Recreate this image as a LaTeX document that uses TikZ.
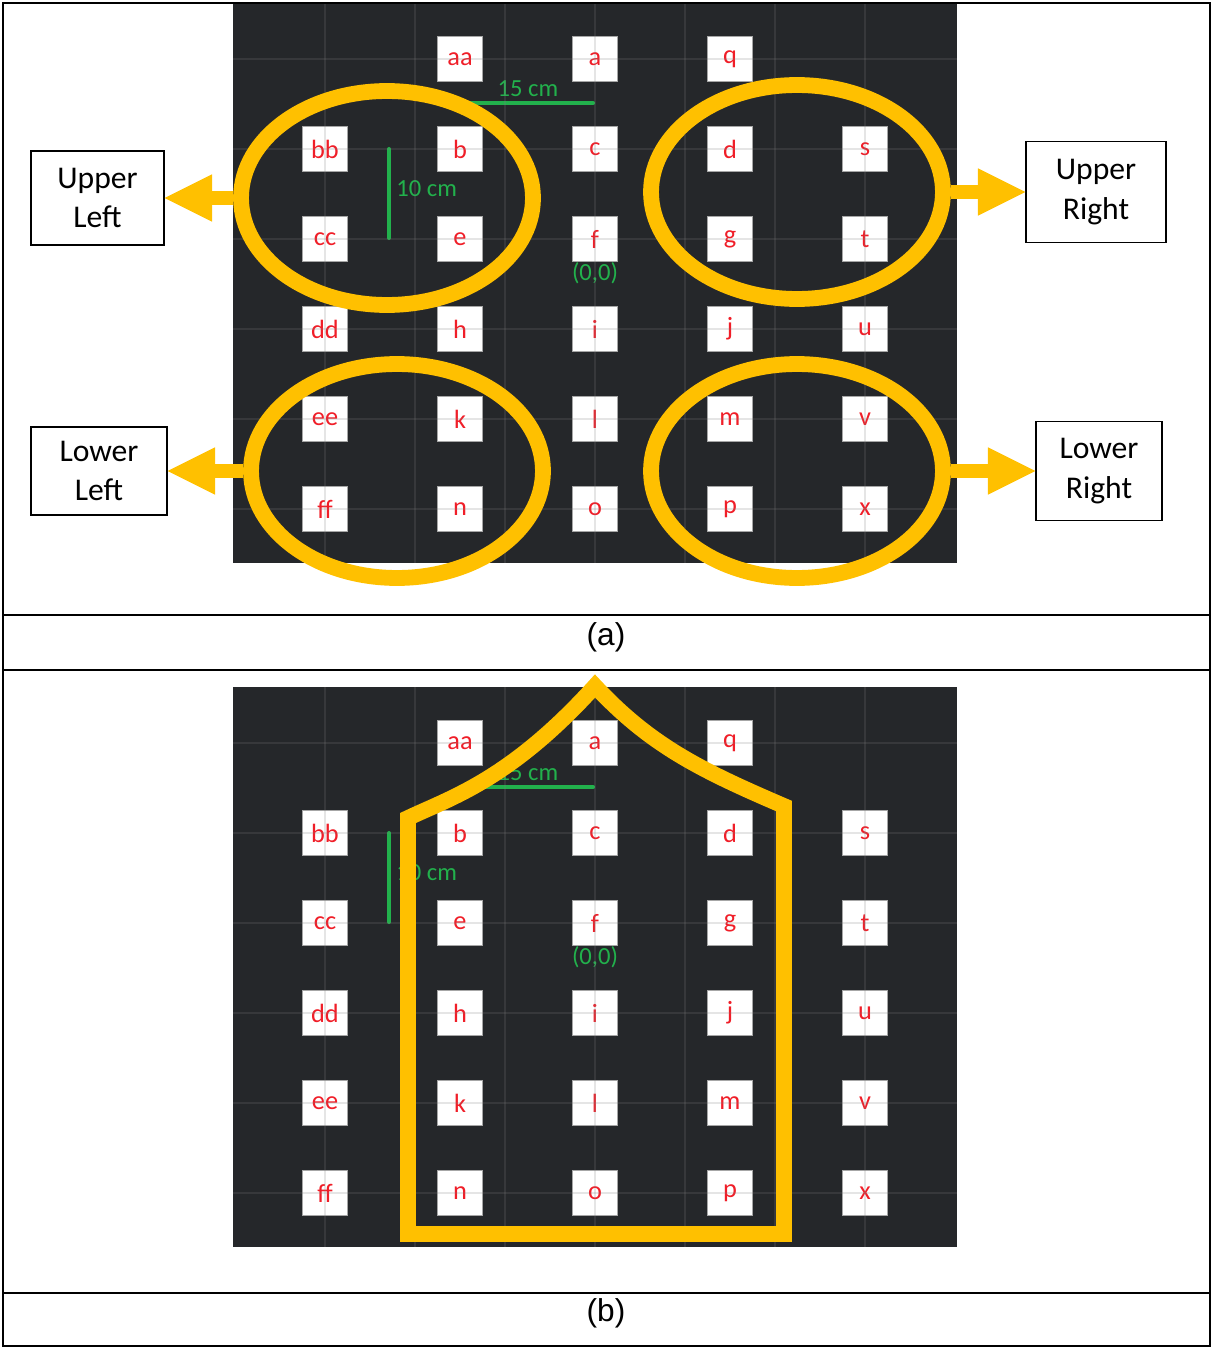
\documentclass[tikz,border=0pt]{standalone}
\usepackage{fontspec}
\setmainfont{Carlito}
\newfontfamily\capfont{Liberation Sans}
\usetikzlibrary{shapes.geometric,arrows.meta}

\begin{document}
\begin{tikzpicture}[x=0.02cm,y=-0.02cm]
  \definecolor{boardbg}{RGB}{37,39,42}
  \definecolor{gold}{RGB}{255,192,0}
  \definecolor{rulergreen}{RGB}{34,177,76}
  \definecolor{tagred}{RGB}{240,30,40}

  \tikzset{
    tagbox/.style={rectangle,draw=gray!70,fill=white,line width=0.5pt,minimum size=0.9cm,inner sep=0pt,text=tagred,font=\fontsize{15}{15}\selectfont},
    gridline/.style={draw=gray,opacity=0.2,line width=0.6pt},
    ruler/.style={draw=rulergreen,line width=2.3pt,line cap=round},
    rulertext/.style={text=rulergreen,font=\fontsize{14}{14}\selectfont,inner sep=0pt},
    ring/.style={ellipse,draw=gold,line width=9pt,minimum width=5.84cm,minimum height=4.28cm,inner sep=0pt},
    regionbox/.style={rectangle,draw=black,line width=0.8pt,fill=white,align=center,font=\fontsize{18}{22.7}\selectfont,inner sep=0pt},
    regionarrow/.style={-{Triangle[length=27pt,width=27pt,line width=0pt]},draw=gold,fill=gold,line width=8.5pt},
    frameline/.style={draw=black,line width=1.2pt},
    captext/.style={font=\capfont\fontsize{18}{18}\selectfont,inner sep=0pt}
  }

  \useasboundingbox (0,0) rectangle (1212,1348);

  % ---------------- the board, drawn once for each panel ----------------
  \foreach \pn/\dy in {pa/0,pb/684}{
    \begin{scope}[shift={(0,\dy)},name prefix=\pn-]
      \fill[boardbg] (233,3) rectangle (957,563);

      % scale bars
      \draw[ruler] (460,103) -- (593,103);
      \draw[ruler] (389,149) -- (389,238);
      \node[rulertext] (len15) at (528,89) {15 cm};
      \node[rulertext,anchor=west] (len10) at (396,189) {10 cm};
      \node[rulertext] (origin) at (595,273) {(0,0)};

      % marker tags
      \foreach \lbl/\cx/\cy in {bb/325/149,cc/325/239,dd/325/329,ee/325/419,ff/325/509,
                                aa/460/59,b/460/149,e/460/239,h/460/329,k/460/419,n/460/509,
                                a/595/59,c/595/149,f/595/239,i/595/329,l/595/419,o/595/509,
                                q/730/59,d/730/149,g/730/239,j/730/329,m/730/419,p/730/509,
                                s/865/149,t/865/239,u/865/329,v/865/419,x/865/509}
        \node[tagbox] (\lbl) at (\cx,\cy) {\lbl};

      % faint floor grid
      \foreach \gx in {325,415,...,865}
        \draw[gridline] (\gx,3) -- (\gx,563);
      \foreach \gy in {59,149,...,509}
        \draw[gridline] (233,\gy) -- (957,\gy);
    \end{scope}
  }

  % ---------------- (a): four quadrants ----------------
  \node[ring] (ulring) at (387,198) {};
  \node[ring] (urring) at (797,192) {};
  \node[ring] (llring) at (397,471) {};
  \node[ring] (lrring) at (797,471) {};

  \node[regionbox,minimum width=2.66cm,minimum height=1.88cm] (ulbox) at (97.5,198) {Upper\\Left};
  \node[regionbox,minimum width=2.8cm,minimum height=2.02cm] (urbox) at (1096,192) {Upper\\Right};
  \node[regionbox,minimum width=2.72cm,minimum height=1.76cm] (llbox) at (99,471) {Lower\\Left};
  \node[regionbox,minimum width=2.52cm,minimum height=1.98cm] (lrbox) at (1099,471) {Lower\\Right};

  \draw[regionarrow] (ulring.west) -- (ulbox.east);
  \draw[regionarrow] (urring.east) -- (urbox.west);
  \draw[regionarrow] (llring.west) -- (llbox.east);
  \draw[regionarrow] (lrring.east) -- (lrbox.west);

  % ---------------- (b): dome-shaped area ----------------
  \draw[gold,line width=9pt,line join=miter]
    (408,1234) -- (408,818)
    .. controls (450,798) and (510,780) .. (595,686)
    .. controls (650,745) and (700,770) .. (784,806)
    -- (784,1234) -- cycle;

  % table rules and captions
  \draw[frameline] (3,3) rectangle (1210,1346);
  \draw[frameline] (3,615) -- (1210,615);
  \draw[frameline] (3,670) -- (1210,670);
  \draw[frameline] (3,1293) -- (1210,1293);
  \node[captext] (capa) at (606,637) {(a)};
  \node[captext] (capb) at (606,1313) {(b)};
\end{tikzpicture}
\end{document}
